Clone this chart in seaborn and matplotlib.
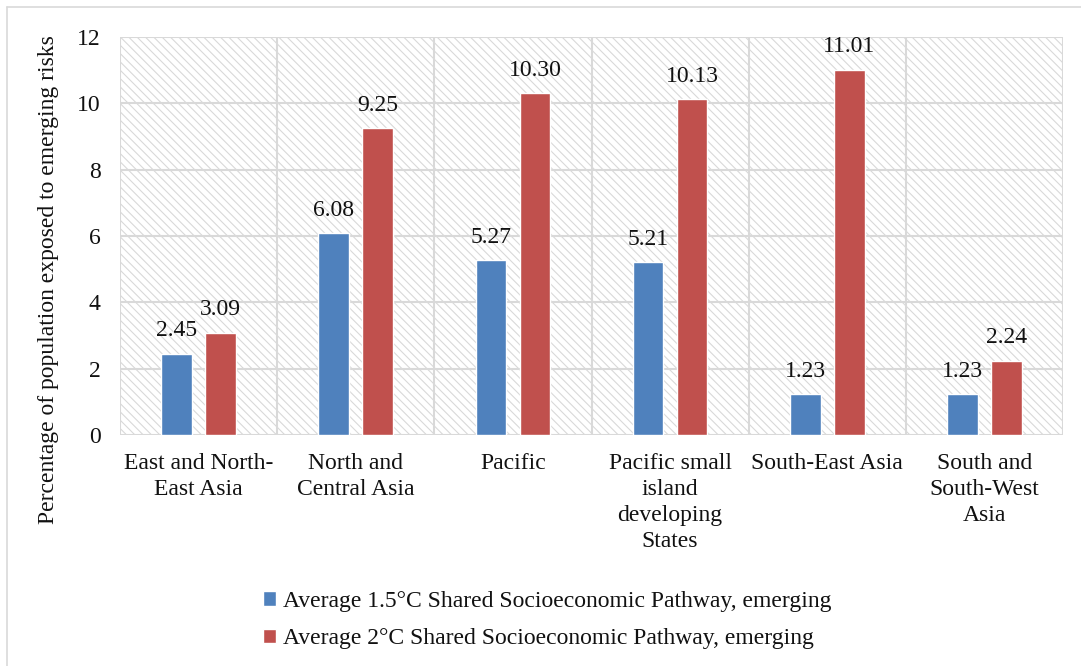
import matplotlib
matplotlib.use("Agg")
import matplotlib.pyplot as plt
import seaborn as sns
import pandas as pd
from matplotlib.patches import Rectangle
from matplotlib.lines import Line2D

regions = [
    "East and North-\nEast Asia",
    "North and\nCentral Asia",
    "Pacific",
    "Pacific small\nisland\ndeveloping\nStates",
    "South-East Asia",
    "South and\nSouth-West\nAsia",
]
series_names = [
    "Average 1.5°C Shared Socioeconomic Pathway, emerging",
    "Average 2°C Shared Socioeconomic Pathway, emerging",
]
values_15 = [2.45, 6.08, 5.27, 5.21, 1.23, 1.23]
values_20 = [3.09, 9.25, 10.30, 10.13, 11.01, 2.24]
y_ticks = [0, 2, 4, 6, 8, 10, 12]
y_title = "Percentage of population exposed to emerging risks"

df = pd.DataFrame({
    "region": regions * 2,
    "series": [series_names[0]] * len(regions) + [series_names[1]] * len(regions),
    "value": values_15 + values_20,
})

sns.set_theme(style="white")
SERIF = "Liberation Serif"
plt.rcParams["font.family"] = [SERIF, "DejaVu Serif"]
plt.rcParams["font.serif"] = [SERIF, "DejaVu Serif"]
plt.rcParams["hatch.linewidth"] = 0.8
plt.rcParams["hatch.color"] = "#d6d6d6"

FS = 17
W, H = 1081, 666
grid_c = "#d9d9d9"
text_c = "#111111"
colors = ["#4f81bd", "#c0504d"]

fig = plt.figure(figsize=(W / 100, H / 100), dpi=100)
ax = fig.add_axes([120 / W, 1 - 435 / H, (1063 - 120) / W, (435 - 37) / H])

# outer chart frame
fig.add_artist(Line2D([7.5 / W, 7.5 / W], [0, 1 - 6.5 / H],
                      transform=fig.transFigure, color=grid_c, lw=1.2))
fig.add_artist(Line2D([7.5 / W, 1], [1 - 6.5 / H, 1 - 6.5 / H],
                      transform=fig.transFigure, color=grid_c, lw=1.2))

# hatched plot-area background
ax.add_patch(Rectangle((0, 0), 1, 1, transform=ax.transAxes, facecolor="white",
                       edgecolor=grid_c, hatch="\\\\\\\\", lw=0, zorder=0))

sns.barplot(data=df, x="region", y="value", hue="series", palette=colors,
            width=0.56, gap=0.3, ax=ax, saturation=1, zorder=3, legend=True)

ax.set_xlim(-0.5, len(regions) - 0.5)
ax.set_ylim(0, 12)
ax.set_yticks(y_ticks, [str(t) for t in y_ticks])
ax.tick_params(axis="both", length=0, labelsize=FS, labelcolor=text_c,
               labelfontfamily=SERIF)
ax.tick_params(axis="y", pad=14)
ax.tick_params(axis="x", pad=13)

# grid: horizontal at each tick, vertical between categories
for t in y_ticks:
    ax.axhline(t, color=grid_c, lw=1.5, zorder=1)
for b in range(len(regions) + 1):
    ax.axvline(b - 0.5, color=grid_c, lw=1.5, zorder=1)
for s in ax.spines.values():
    s.set_visible(False)

ax.set_xlabel("")
ax.set_ylabel("")
fig.text(49 / W, 1 - 280 / H, y_title, rotation=90, ha="center", va="center",
         fontsize=FS, family=SERIF, color=text_c)

for cont in ax.containers:
    ax.bar_label(cont, fmt="%.2f", padding=9, fontsize=FS, family=SERIF, color=text_c)

handles, labels = ax.get_legend_handles_labels()
leg = ax.legend(handles, labels, loc="upper left", bbox_to_anchor=(263 / W, 0.113),
                bbox_transform=fig.transFigure, frameon=False,
                prop={"family": SERIF, "size": FS},
                handlelength=0.55, handleheight=0.55, handletextpad=0.3,
                labelspacing=0.7, borderaxespad=0, borderpad=0)
for t in leg.get_texts():
    t.set_color(text_c)

fig.canvas.draw()
for lab in ax.get_xticklabels():
    lab.set_linespacing(1.32)

fig.savefig("out.png", dpi=100)
